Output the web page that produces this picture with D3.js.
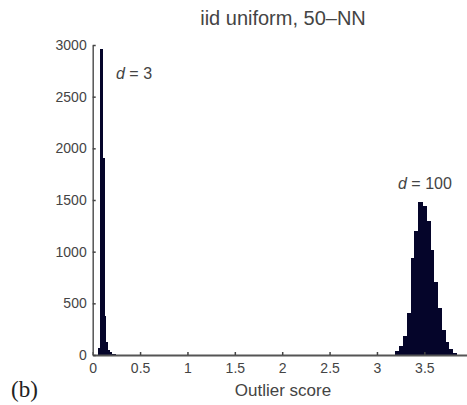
<!DOCTYPE html>
<html>
<head>
<meta charset="utf-8">
<script src="https://cdn.jsdelivr.net/npm/d3@7"></script>
<style>
body { margin: 0; background: #fff; }
</style>
</head>
<body>
<div id="chart"></div>
<script>
var W = 467, H = 405;

// histogram for d = 3 (bin start, count), bin width 0.02
var binsD3 = [0.06, 0.08, 0.10, 0.12, 0.14, 0.16, 0.18, 0.20, 0.22];
var countsD3 = [60, 2960, 1900, 370, 120, 40, 20, 8, 3];
var widthD3 = 0.02;

// histogram for d = 100, bin width 0.04
var binsD100 = [3.20, 3.24, 3.28, 3.32, 3.36, 3.40, 3.44, 3.48, 3.52, 3.56, 3.60, 3.64, 3.68, 3.72, 3.76, 3.80];
var countsD100 = [30, 80, 180, 400, 930, 1200, 1480, 1440, 1290, 1010, 700, 450, 240, 120, 50, 15];
var widthD100 = 0.04;

var xTicks = [0, 0.5, 1, 1.5, 2, 2.5, 3, 3.5];
var yTicks = [0, 500, 1000, 1500, 2000, 2500, 3000];

var navy = "#05052a";
var grey = "#444";

var x = d3.scaleLinear().domain([0, 4]).range([92.7, 471.7]);
var y = d3.scaleLinear().domain([0, 3000]).range([355, 45]);

var svg = d3.select("#chart").append("svg")
	.attr("width", W)
	.attr("height", H)
	.style("font-family", "'Liberation Sans', Arial, Helvetica, sans-serif");

function drawHist(bins, counts, bw) {
	svg.append("g").selectAll("rect")
		.data(bins)
		.enter()
		.append("rect")
		.attr("x", d => x(d))
		.attr("y", (d, i) => y(counts[i]))
		.attr("width", d => x(d + bw) - x(d))
		.attr("height", (d, i) => y(0) - y(counts[i]))
		.attr("fill", navy)
		.attr("stroke", navy)
		.attr("stroke-width", 1)
		.attr("shape-rendering", "crispEdges");
}

drawHist(binsD3, countsD3, widthD3);
drawHist(binsD100, countsD100, widthD100);

// axes, ticks pointing inward
var xAxis = svg.append("g")
	.attr("transform", "translate(0," + y(0) + ")")
	.call(d3.axisBottom(x).tickValues(xTicks).tickSizeInner(-3).tickSizeOuter(0).tickPadding(8)
		.tickFormat(d3.format("")));
xAxis.select(".domain").attr("stroke", "#555").attr("stroke-width", 2);
xAxis.selectAll(".tick line").attr("stroke", "#444").attr("stroke-width", 1.5);
xAxis.selectAll("text").attr("fill", grey).style("font-size", "14px");

var yAxis = svg.append("g")
	.attr("transform", "translate(" + x(0) + ",0)")
	.call(d3.axisLeft(y).tickValues(yTicks).tickSizeInner(-3).tickSizeOuter(0).tickPadding(6)
		.tickFormat(d3.format("d")));
yAxis.select(".domain").attr("stroke", "#555").attr("stroke-width", 1.5);
yAxis.selectAll(".tick line").attr("stroke", "#444").attr("stroke-width", 1.5);
yAxis.selectAll("text").attr("fill", grey).style("font-size", "14px");

// title and labels
svg.append("text")
	.attr("x", 283)
	.attr("y", 25)
	.attr("text-anchor", "middle")
	.attr("fill", grey)
	.style("font-size", "20px")
	.text("iid uniform, 50\u2013NN");

svg.append("text")
	.attr("x", 283)
	.attr("y", 396)
	.attr("text-anchor", "middle")
	.attr("fill", grey)
	.style("font-size", "17px")
	.text("Outlier score");

var lab3 = svg.append("text")
	.attr("x", 116)
	.attr("y", 79)
	.attr("fill", grey)
	.style("font-size", "16px");
lab3.append("tspan").style("font-style", "italic").text("d");
lab3.append("tspan").text(" = 3");

var lab100 = svg.append("text")
	.attr("x", 398)
	.attr("y", 189)
	.attr("fill", grey)
	.style("font-size", "16px");
lab100.append("tspan").style("font-style", "italic").text("d");
lab100.append("tspan").text(" = 100");

svg.append("text")
	.attr("x", 11)
	.attr("y", 397)
	.attr("fill", "#222")
	.style("font-family", "'Liberation Serif', 'Times New Roman', serif")
	.style("font-size", "23px")
	.text("(b)");
</script>
</body>
</html>
